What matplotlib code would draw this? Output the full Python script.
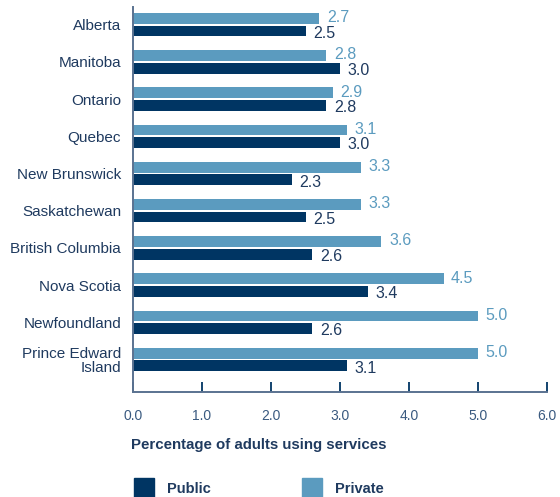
import matplotlib
matplotlib.use("Agg")
import matplotlib.pyplot as plt
from matplotlib.patches import Rectangle

provinces = ["Alberta", "Manitoba", "Ontario", "Quebec", "New Brunswick",
             "Saskatchewan", "British Columbia", "Nova Scotia", "Newfoundland",
             "Prince Edward\nIsland"]
private = [2.7, 2.8, 2.9, 3.1, 3.3, 3.3, 3.6, 4.5, 5.0, 5.0]
public = [2.5, 3.0, 2.8, 3.0, 2.3, 2.5, 2.6, 3.4, 2.6, 3.1]
xticks = [0, 1, 2, 3, 4, 5, 6]

DARK = "#003563"
LIGHT = "#5b9bbf"
TEXT = "#1f3a5f"
AXIS = "#5a7290"

plt.rcParams["font.family"] = ["Liberation Sans", "DejaVu Sans"]

W, H = 560, 497
fig = plt.figure(figsize=(W / 100, H / 100), dpi=100)
ax = fig.add_axes([133 / W, 1 - 392 / H, (547 - 133) / W, (392 - 7) / H])

ys = list(range(len(provinces)))
off = 0.17
bh = 0.29
ax.barh([y - off for y in ys], private, height=bh, color=LIGHT)
ax.barh([y + off for y in ys], public, height=bh, color=DARK)

for y, v in zip(ys, private):
    ax.text(v + 0.11, y - off - 0.02, f"{v:.1f}", color=LIGHT, fontsize=11.5,
            va="center", ha="left")
for y, v in zip(ys, public):
    ax.text(v + 0.11, y + off + 0.06, f"{v:.1f}", color=TEXT, fontsize=11.5,
            va="center", ha="left")

ax.set_xlim(0, 6)
ax.set_ylim(9.874, -0.476)
ax.set_yticks(ys)
ax.set_yticklabels(provinces, fontsize=11, color=TEXT, linespacing=1.0)
ax.tick_params(axis="y", length=0, pad=8.5)
ax.set_xticks(xticks)
ax.set_xticklabels([f"{t:.1f}" for t in xticks], fontsize=10, color="#3a5a80")
ax.tick_params(axis="x", direction="in", length=7, width=1.3, color=DARK, pad=12.5)

for s in ["top", "right"]:
    ax.spines[s].set_visible(False)
for s in ["left", "bottom"]:
    ax.spines[s].set_color(AXIS)
    ax.spines[s].set_linewidth(1.4)

fig.text(131 / W, 1 - 445 / H, "Percentage of adults using services",
         fontsize=10.8, fontweight="bold", color=TEXT, va="center", ha="left")

# legend
fig.patches.append(Rectangle((134 / W, 1 - 497 / H), 20 / W, 19 / H,
                             transform=fig.transFigure, color=DARK))
fig.text(167 / W, 1 - 489 / H, "Public", fontsize=10.5, fontweight="bold",
         color=TEXT, va="center", ha="left")
fig.patches.append(Rectangle((302 / W, 1 - 497 / H), 20 / W, 19 / H,
                             transform=fig.transFigure, color=LIGHT))
fig.text(335 / W, 1 - 489 / H, "Private", fontsize=10.5, fontweight="bold",
         color=TEXT, va="center", ha="left")

fig.savefig("out.png", dpi=100)
